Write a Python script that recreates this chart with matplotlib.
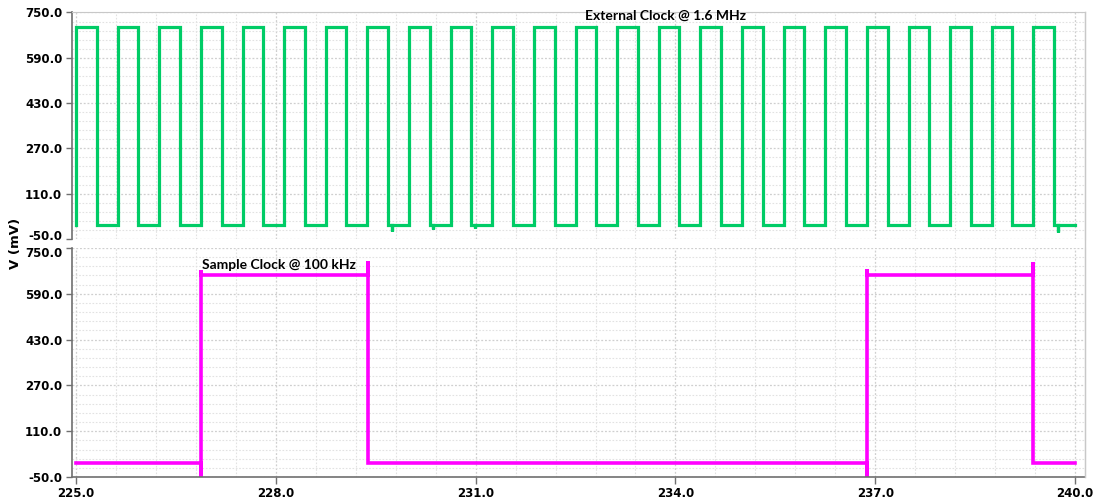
import numpy as np
import matplotlib.pyplot as plt
import matplotlib.transforms as mtransforms
from matplotlib.ticker import MultipleLocator, FixedLocator, FormatStrFormatter
from matplotlib.lines import Line2D

# External clock (1.6 MHz) edge times in us and levels in mV
ext_rise = [225.000, 225.625, 226.250, 226.875, 227.500, 228.125, 228.750, 229.375,
            230.000, 230.625, 231.250, 231.875, 232.500, 233.125, 233.750, 234.375,
            235.000, 235.625, 236.250, 236.875, 237.500, 238.125, 238.750, 239.375]
ext_fall = [225.310, 225.935, 226.560, 227.185, 227.810, 228.435, 229.060, 229.685,
            230.310, 230.935, 231.560, 232.185, 232.810, 233.435, 234.060, 234.685,
            235.310, 235.935, 236.560, 237.185, 237.810, 238.435, 239.060, 239.685]
ext_high = 698
ext_low = 0
# small ringing spikes seen on the low level
glitch_t = [229.740, 230.365, 230.990, 239.745]
glitch_v = [-23, -15, -11, -25]

# Sample clock (100 kHz)
smp_rise = [226.875, 236.870]
smp_fall = [229.385, 239.375]
smp_high = 656
smp_low = 0
smp_rise_peak = [674, 677]
smp_fall_peak = [703, 702]
smp_rise_dip = [-50, -50]

y_ticks = [-50.0, 110.0, 270.0, 430.0, 590.0, 750.0]
t_start, t_end = 225.0, 240.0


def build_ext():
    t, v = [t_start], [ext_low]
    glitches = dict(zip(glitch_t, glitch_v))
    for r, f in zip(ext_rise, ext_fall):
        t += [r, r, f, f]
        v += [ext_low, ext_high, ext_high, ext_low]
        for gt, gv in glitches.items():
            if f < gt < f + 0.2:
                t += [gt, gt, gt]
                v += [ext_low, gv, ext_low]
    t.append(t_end)
    v.append(ext_low)
    return np.array(t), np.array(v)


def build_smp():
    t, v = [t_start], [smp_low]
    for r, f, rp, fp, rd in zip(smp_rise, smp_fall, smp_rise_peak, smp_fall_peak, smp_rise_dip):
        t += [r, r, r, r, f, f, f]
        v += [smp_low, rd, rp, smp_high, smp_high, fp, smp_low]
    t.append(t_end)
    v.append(smp_low)
    return np.array(t), np.array(v)


fig = plt.figure(figsize=(10.96, 5.03), dpi=100)
ax1 = fig.add_axes([0.0657, 0.5249, 0.9243, 0.4503])
ax2 = fig.add_axes([0.0657, 0.0517, 0.9243, 0.4553])

t1, v1 = build_ext()
t2, v2 = build_smp()
ax1.plot(t1, v1, color='#00cc66', lw=2.3, solid_joinstyle='miter')
ax2.plot(t2, v2, color='#ff00ff', lw=2.6, solid_joinstyle='miter')

tick_font = dict(fontfamily='DejaVu Sans', fontweight='bold', fontsize=8.5)
minor_y = np.arange(y_ticks[0], y_ticks[-1] + 1, (y_ticks[1] - y_ticks[0]) / 5)

for ax in (ax1, ax2):
    ax.set_xlim(224.94, 240.15)
    ax.set_ylim(-50, 750)
    ax.yaxis.set_major_locator(FixedLocator(y_ticks))
    ax.yaxis.set_minor_locator(FixedLocator(minor_y))
    ax.xaxis.set_major_locator(MultipleLocator(3.0))
    ax.xaxis.set_minor_locator(MultipleLocator(0.6))
    ax.yaxis.set_major_formatter(FormatStrFormatter('%.1f'))
    ax.xaxis.set_major_formatter(FormatStrFormatter('%.1f'))
    ax.grid(which='major', color='#cfcfcf', linestyle=(0, (1.5, 1.5)), lw=0.9)
    ax.grid(which='minor', color='#e2e2e2', linestyle=(0, (1.5, 1.5)), lw=0.8)
    ax.set_axisbelow(True)
    ax.tick_params(axis='y', which='major', length=4, width=1, color='#707070', pad=3)
    ax.tick_params(which='minor', length=0)
    for lab in ax.get_yticklabels():
        lab.set(**tick_font)
    ax.spines['left'].set_color('#707070')
    ax.spines['left'].set_linewidth(1.2)
    ax.spines['right'].set_color('#c8c8c8')
    ax.spines['top'].set_visible(False)
    ax.spines['bottom'].set_visible(False)

# nudge the two labels that meet between the panels apart a little
lo_lab = ax1.get_yticklabels()[0]
lo_lab.set_transform(lo_lab.get_transform() + mtransforms.ScaledTranslation(0, 3 / 72, fig.dpi_scale_trans))
hi_lab = ax2.get_yticklabels()[-1]
hi_lab.set_transform(hi_lab.get_transform() + mtransforms.ScaledTranslation(0, -3 / 72, fig.dpi_scale_trans))

ax1.spines['top'].set_visible(True)
ax1.spines['top'].set_color('#c8c8c8')
ax1.tick_params(axis='x', which='both', length=0, labelbottom=False)

ax2.spines['bottom'].set_visible(True)
ax2.spines['bottom'].set_color('#707070')
ax2.spines['bottom'].set_linewidth(1.2)
ax2.tick_params(axis='x', which='major', length=5, width=1, color='#707070', pad=2)
for lab in ax2.get_xticklabels():
    lab.set(**tick_font)

# right border running through the gap between the panels
fig.add_artist(Line2D([0.99, 0.99], [0.0517, 0.976], color='#c8c8c8', lw=1))

ax1.text(232.64, 737, 'External Clock @ 1.6 MHz', fontfamily='Lato', fontweight='bold',
         fontsize=10, va='center', ha='left')
ax2.text(226.89, 691, 'Sample Clock @ 100 kHz', fontfamily='Lato', fontweight='bold',
         fontsize=10, va='center', ha='left')

fig.text(0.014, 0.517, 'V (mV)', rotation=90, va='center', ha='center',
         fontfamily='DejaVu Sans', fontweight='bold', fontsize=9.5)

fig.savefig('out.png', dpi=100)
